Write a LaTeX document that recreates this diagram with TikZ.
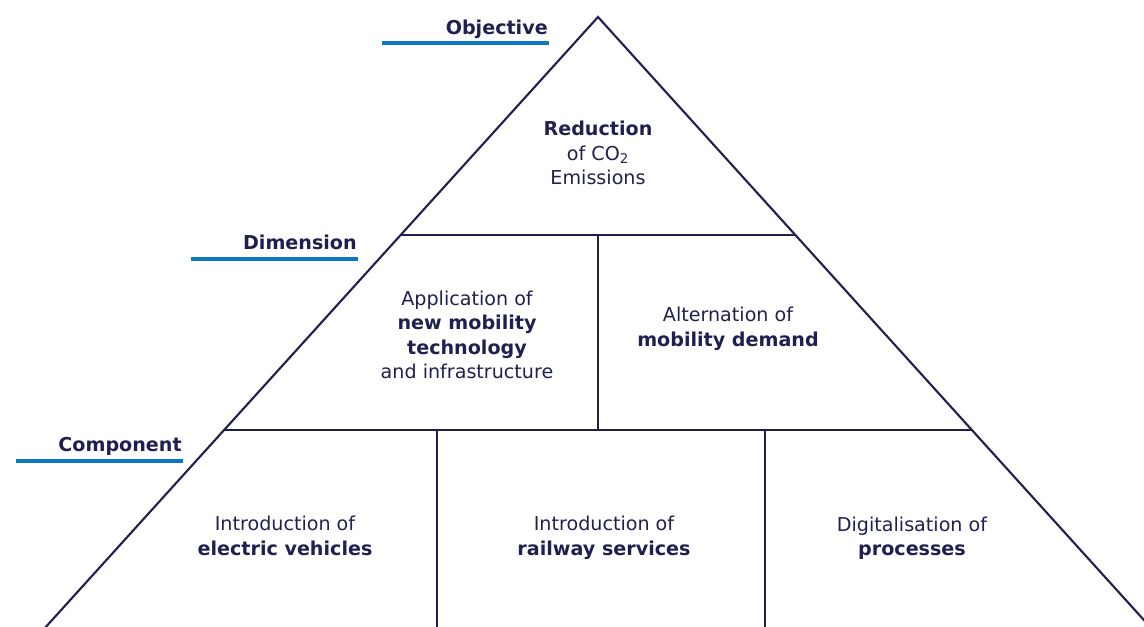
\documentclass[tikz,border=0pt]{standalone}
\usepackage{fontspec}
\setmainfont{DejaVu Sans}
\usepackage{tikz}
\usetikzlibrary{positioning}

\definecolor{navy}{HTML}{1F2050}
\definecolor{rulerblue}{HTML}{0B78C1}

\tikzset{
  edge/.style = {draw=navy, line width=1.5pt},
  ruler/.style = {draw=rulerblue, line width=2.6pt},
  level/.style = {text=navy, font=\fontsize{13.6pt}{17.4pt}\selectfont\bfseries, inner sep=0pt, anchor=base east},
  cell/.style = {text=navy, font=\fontsize{13.6pt}{17.4pt}\selectfont, align=center, inner sep=0pt},
}

\begin{document}
\begin{tikzpicture}[x=0.025cm, y=-0.025cm]
    \useasboundingbox (0,0) rectangle (1144,626);
    \clip (0,0) rectangle (1144,626);

    \coordinate (apex) at (598,17);
    \coordinate (bl) at (34,640);
    \coordinate (br) at (1162,640);
    \coordinate (dl) at (401,235);
    \coordinate (dr) at (795,235);
    \coordinate (cl) at (224,430);
    \coordinate (cr) at (972,430);
    \coordinate (dm) at (598,235);
    \coordinate (cm) at (598,430);
    \coordinate (ca) at (437,430);
    \coordinate (cb) at (765,430);
    \coordinate (ca') at (437,640);
    \coordinate (cb') at (765,640);

    \draw[edge] (bl) -- (apex) -- (br);
    \draw[edge] (dl) -- (dr);
    \draw[edge] (cl) -- (cr);
    \draw[edge] (dm) -- (cm);
    \draw[edge] (ca) -- (ca');
    \draw[edge] (cb) -- (cb');

    \node[level] (objective) at (548,34) {Objective};
    \node[level] (dimension) at (357,249) {Dimension};
    \node[level] (component) at (182,451) {Component};

    \coordinate (o1) at (382,43);  \coordinate (o2) at (549,43);
    \coordinate (d1) at (191,259); \coordinate (d2) at (358,259);
    \coordinate (c1) at (16,461);  \coordinate (c2) at (183,461);
    \draw[ruler] (o1) -- (o2);
    \draw[ruler] (d1) -- (d2);
    \draw[ruler] (c1) -- (c2);

    \node[cell] (reduction) at (598,153) {\textbf{Reduction}\\of CO\textsubscript{2}\\Emissions};
    \node[cell] (application) at (467,335) {Application of\\\textbf{new mobility}\\\textbf{technology}\\and infrastructure};
    \node[cell] (alternation) at (728,329) {Alternation of\\\textbf{mobility demand}};
    \node[cell] (electric) at (285,536) {Introduction of\\\textbf{electric vehicles}};
    \node[cell] (railway) at (604,538) {Introduction of\\\textbf{railway services}};
    \node[cell] (digital) at (912,538) {Digitalisation of\\\textbf{processes}};
\end{tikzpicture}
\end{document}
